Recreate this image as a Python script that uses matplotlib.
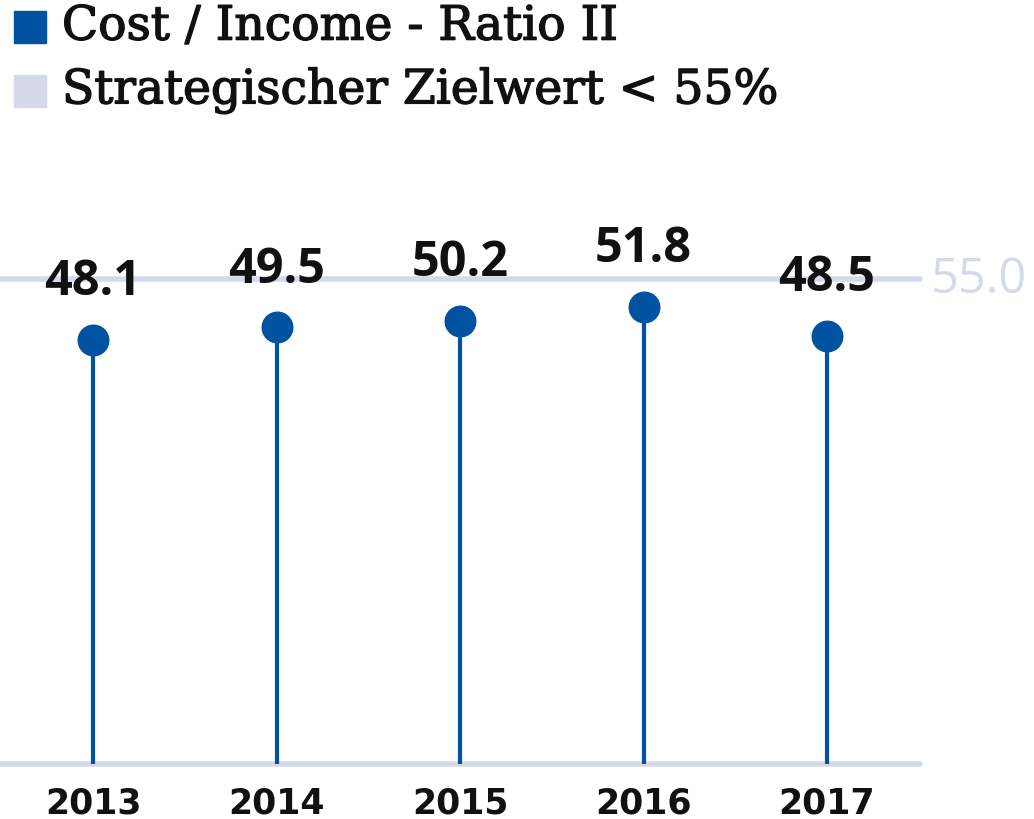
import matplotlib
matplotlib.use("Agg")
import matplotlib.pyplot as plt
import matplotlib.patheffects as pe
from matplotlib.patches import Rectangle

# data
years = ["2013", "2014", "2015", "2016", "2017"]
ratio = [48.1, 49.5, 50.2, 51.8, 48.5]
target = 55.0

legend_labels = ["Cost / Income - Ratio II", "Strategischer Zielwert < 55%"]

BLUE = "#0152a0"
LIGHT = "#d5daea"
INK = "#111111"

fig = plt.figure(figsize=(10.34, 8.2), dpi=100)
ax = fig.add_axes([0, 0, 1, 1])
ax.set_xlim(-0.507, 5.128)
ax.set_ylim(-6.24, 86.75)
ax.axis("off")

x = list(range(len(years)))
x_left, x_right = -0.507, 4.507

# target and base lines
ax.plot([x_left, x_right], [target, target], color=LIGHT, lw=4, solid_capstyle="round", zorder=1)
ax.plot([x_left, x_right], [0, 0], color=LIGHT, lw=4, solid_capstyle="round", zorder=1)

# lollipops
ax.vlines(x, 0, ratio, color=BLUE, lw=3, zorder=2)
ax.plot(x, ratio, "o", color=BLUE, markersize=22, zorder=3)

for xi, v in zip(x, ratio):
    ax.annotate(f"{v:.1f}", (xi, v), xytext=(0, 42), textcoords="offset points",
                ha="center", va="center", fontsize=35, fontweight="bold",
                family="Open Sans", color=INK, zorder=4)

ax.annotate(f"{target:.1f}", (x_right, target), xytext=(8, 0), textcoords="offset points",
            ha="left", va="center", fontsize=35, family="Open Sans", color=LIGHT)

for xi, yr in zip(x, years):
    ax.annotate(yr, (xi, 0), xytext=(0, -28), textcoords="offset points",
                ha="center", va="center", fontsize=25, fontweight="bold",
                family="DejaVu Sans", color=INK)

# legend
for i, (lab, col) in enumerate(zip(legend_labels, [BLUE, LIGHT])):
    top = 12 + i * 64
    fig.patches.append(Rectangle((14 / 1034, 1 - (top + 32) / 820), 32 / 1034, 32 / 820,
                                 transform=fig.transFigure, color=col))
    fig.text(62 / 1034, 1 - (top + 16) / 820, lab, ha="left", va="center",
             fontsize=34, fontweight="normal", family="DejaVu Serif", color=INK,
             path_effects=[pe.withStroke(linewidth=1.0, foreground=INK)])

fig.savefig("out.png", dpi=100)
